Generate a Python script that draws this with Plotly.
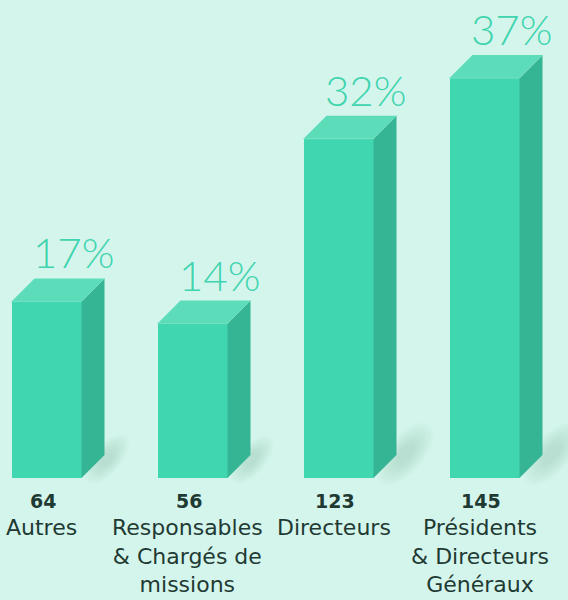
import numpy as np
import plotly.graph_objects as go

categories = ["Autres", "Responsables<br>& Chargés de<br>missions", "Directeurs", "Présidents<br>& Directeurs<br>Généraux"]
counts = [64, 56, 123, 145]
percents = ["17%", "14%", "32%", "37%"]

BG = "#d4f5ec"
FRONT = "#40d6b0"
SIDE = "#35b594"
TOP = "#5cdcb9"
PCT = "#40d4ae"
DARK = "#1f3a33"

W, H = 568, 600
base_px = 478          # pixel row of the floor
top_px = 78            # pixel row of the tallest bar's front top
x0_px = 46.5           # pixel column of first bar centre
step_px = 146.0        # pixel spacing between bars
ppu_y = (base_px - top_px) / max(counts)
ppu_x = step_px
bw = 70 / ppu_x
depth_px = 23
dx = depth_px / ppu_x
dy = depth_px / ppu_y

xs = list(range(len(counts)))

fig = go.Figure()

# soft floor shadows: stacked translucent rotated ellipses (pixel-sized, converted)
t = np.linspace(0, 2 * np.pi, 60)
ang = np.deg2rad(50)
for i, v in zip(xs, counts):
    xr = i + bw / 2
    scale = 0.55 + 0.45 * min(v, 120) / 120
    cx_px, cy_px = 32 * scale, 24 * scale
    for k in np.linspace(1.0, 0.3, 8):
        a, b = 38 * scale * k, 18 * scale * k
        px = a * np.cos(t) * np.cos(ang) - b * np.sin(t) * np.sin(ang)
        py = a * np.cos(t) * np.sin(ang) + b * np.sin(t) * np.cos(ang)
        fig.add_trace(go.Scatter(x=xr + (cx_px + px) / ppu_x, y=(cy_px + py) / ppu_y,
                                 fill="toself", mode="none",
                                 fillcolor="rgba(110,165,145,0.035)",
                                 hoverinfo="skip", showlegend=False))

fig.add_trace(go.Bar(x=xs, y=counts, width=bw, marker=dict(color=FRONT, line=dict(width=0)),
                     hoverinfo="skip", showlegend=False))

for i, v in zip(xs, counts):
    l, r = i - bw / 2, i + bw / 2
    fig.add_trace(go.Scatter(x=[l, r, r + dx, l + dx, l], y=[v, v, v + dy, v + dy, v],
                             fill="toself", mode="none",
                             fillcolor=TOP, hoverinfo="skip", showlegend=False))
    fig.add_trace(go.Scatter(x=[r, r + dx, r + dx, r, r], y=[0, dy, v + dy, v, 0],
                             fill="toself", mode="none",
                             fillcolor=SIDE, hoverinfo="skip", showlegend=False))
    fig.add_trace(go.Scatter(x=[l, r, r + dx], y=[v, v, v + dy], mode="lines",
                             line=dict(width=1, color="#74e0c3"), hoverinfo="skip", showlegend=False))

annotations = []
for i, v, p in zip(xs, counts, percents):
    annotations.append(dict(x=i, y=v + dy, xref="x", yref="y", text=p, showarrow=False,
                            xanchor="center", yanchor="bottom", xshift=27, yshift=-1,
                            font=dict(family="Lato", size=42, color=PCT, weight=300)))
for i, v, c in zip(xs, counts, categories):
    annotations.append(dict(x=i, y=1 - 488 / H, xref="x", yref="paper",
                            text=f"<b>{v}</b>", showarrow=False, xanchor="center", yanchor="top",
                            xshift=-4, font=dict(family="DejaVu Sans", size=19, color=DARK)))
    annotations.append(dict(x=i, y=1 - 513 / H, xref="x", yref="paper",
                            text=c, showarrow=False, xanchor="center", yanchor="top", align="center",
                            xshift=-5, font=dict(family="DejaVu Sans", size=22, color=DARK)))

fig.update_layout(
    width=W, height=H, margin=dict(l=0, r=0, t=0, b=0),
    paper_bgcolor=BG, plot_bgcolor=BG, showlegend=False,
    xaxis=dict(range=[-x0_px / ppu_x, (W - x0_px) / ppu_x], visible=False, fixedrange=True),
    yaxis=dict(range=[-(H - base_px) / ppu_y, base_px / ppu_y], visible=False, fixedrange=True),
    annotations=annotations, bargap=0,
)

fig.write_html("out.html", config={"displayModeBar": False},
               post_script="document.body.style.margin='0';document.body.style.background='%s';" % BG)
